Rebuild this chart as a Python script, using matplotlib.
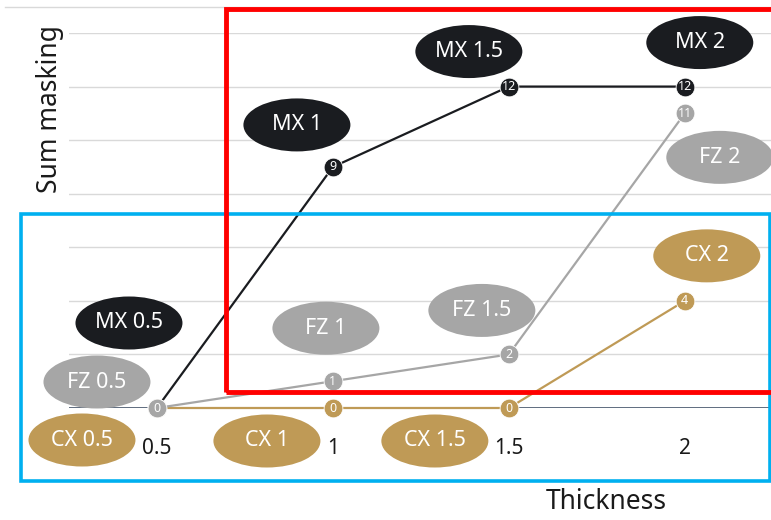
import matplotlib.pyplot as plt
from matplotlib.patches import Ellipse, Rectangle
from matplotlib.lines import Line2D
from matplotlib.transforms import ScaledTranslation

plt.rcParams['font.family'] = ['Noto Sans', 'DejaVu Sans']

# data
thickness = ['0.5', '1', '1.5', '2']
mx = [0, 9, 12, 12]
fz = [0, 1, 2, 11]
cx = [0, 0, 0, 4]

# label offsets from each point, in pixels (dx right, dy down)
mx_off = [(-28, -85), (-36, -42), (-40, -35), (15, -44)]
fz_off = [(-60, -26), (-7, -53), (-27, -44), (35, 44)]
cx_off = [(-75, 32), (-66, 33), (-74, 33), (22, -45)]

c_mx = '#1a1c20'
c_fz = '#a6a6a6'
c_cx = '#bf9a56'

W, H = 771, 520
fig = plt.figure(figsize=(W / 100, H / 100), dpi=100)
ax = fig.add_axes([69 / W, (H - 408) / H, 702 / W, 375 / H])
ax.set_xlim(-0.5, 3.49)
ax.set_ylim(0, 14)
for s in ax.spines.values():
    s.set_visible(False)
ax.set_yticks(range(2, 15, 2))
ax.set_yticklabels([])
ax.tick_params(left=False, bottom=False)
ax.yaxis.grid(True, color='#d9d9d9', lw=1)
ax.set_axisbelow(True)
ax.axhline(0, color='#44546a', lw=1.2, zorder=1)

x = list(range(len(thickness)))
ax.set_xticks(x)
ax.set_xticklabels(thickness, fontsize=15, color='#1a1a1a')
ax.tick_params(axis='x', pad=18)


def draw_series(vals, offs, color, name, z):
    ax.plot(x, vals, color=color, lw=1.6, marker='o', ms=13.5, mec='white', mew=0.6,
            zorder=z, clip_on=False)
    for xi, v, (dx, dy) in zip(x, vals, offs):
        ax.annotate(str(v), (xi, v), ha='center', va='center', color='white',
                    fontsize=9, fontweight='bold', zorder=z + 0.1, annotation_clip=False)
        tr = fig.dpi_scale_trans + ScaledTranslation(xi, v, ax.transData)
        e = Ellipse((dx / 100, -dy / 100), 1.07, 0.53, transform=tr,
                    facecolor=color, edgecolor='none', zorder=z + 0.2, clip_on=False)
        ax.add_patch(e)
        ax.annotate(f'{name} {thickness[xi]}', (xi, v), xytext=(dx * 0.72, -dy * 0.72),
                    textcoords='offset points', ha='center', va='center',
                    color='white', fontsize=15.5, zorder=z + 0.3, annotation_clip=False)


draw_series(mx, mx_off, c_mx, 'MX', 3)
draw_series(cx, cx_off, c_cx, 'CX', 4)
draw_series(fz, fz_off, c_fz, 'FZ', 5)

fig.text(606 / W, 1 - 502 / H, 'Thickness', fontsize=19, color='#1a1a1a',
         ha='center', va='center')
fig.text(50 / W, 1 - 109 / H, 'Sum masking', fontsize=19, color='#1a1a1a',
         ha='center', va='center', rotation=90)

# top border line
fig.add_artist(Line2D([5 / W, 1], [1 - 7 / H, 1 - 7 / H], color='#d9d9d9', lw=1))

# highlight boxes
fig.add_artist(Rectangle((20.5 / W, 1 - 480.5 / H), 749 / W, 267 / H, fill=False,
                         edgecolor='#00b0f0', lw=2.6, zorder=10))
fig.add_artist(Rectangle((225.5 / W, 1 - 391.5 / H), 560 / W, 382.5 / H, fill=False,
                         edgecolor='#ff0000', lw=3.5, zorder=11))

fig.savefig('out.png', dpi=100)
